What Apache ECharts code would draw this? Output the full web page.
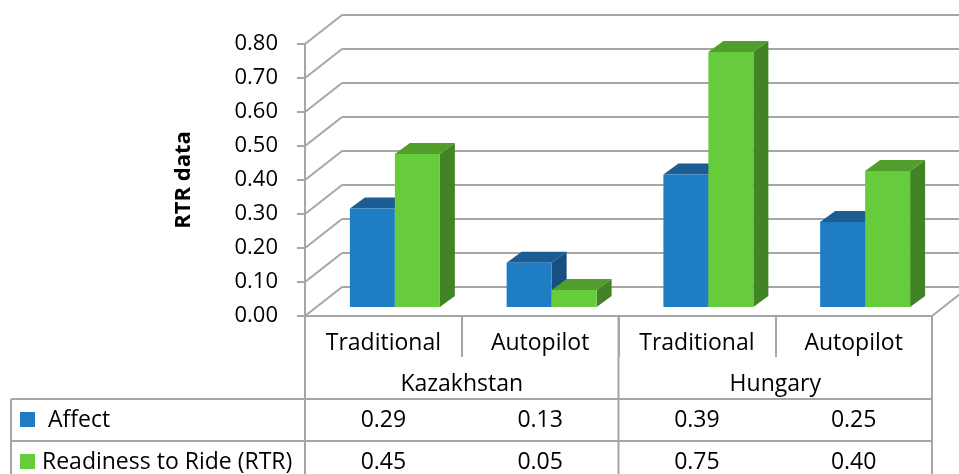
<!DOCTYPE html>
<html><head><meta charset="utf-8">
<script src="https://cdn.jsdelivr.net/npm/echarts@6/dist/echarts.min.js"></script>
<style>html,body{margin:0;padding:0;background:#fff}#c{width:959px;height:474px}</style>
</head><body><div id="c"></div>
<script>
// ---- data ----
const subCategories = ['Traditional', 'Autopilot', 'Traditional', 'Autopilot'];
const groups = ['Kazakhstan', 'Hungary'];
const seriesNames = ['Affect', 'Readiness to Ride (RTR)'];
const affect = [0.29, 0.13, 0.39, 0.25];
const rtr = [0.45, 0.05, 0.75, 0.40];
const yTicks = [0, 0.1, 0.2, 0.3, 0.4, 0.5, 0.6, 0.7, 0.8];
const yTitle = 'RTR data';

// ---- style / layout ----
const FONT = '"Open Sans", sans-serif';
const FS = 23;
const GRID = {left: 305, top: 44, width: 627, height: 272};
const WALL = {dx: 37, dy: -29};
const BAR_SHIFT = {dx: 11.5, dy: -9};
const BAR_DEPTH = {dx: 15, dy: -11};
const BAR_FRAC = 0.287;
const LINE = '#a6a6a6';
const colors = [
  {front: '#1f7dc3', top: '#1c5e94', side: '#174f80'},
  {front: '#66cc3b', top: '#529e2c', side: '#418325'}
];
const seriesValues = [affect, rtr];
const yMin = yTicks[0], yMax = yTicks[yTicks.length - 1], yStep = yTicks[1] - yTicks[0];

function barRender(s) {
  return function (params, api) {
    const cat = api.value(0), v = api.value(1);
    const base = api.coord([cat, 0]);
    const top = api.coord([cat, v]);
    const bw = api.size([1, 0])[0] * BAR_FRAC;
    const x0 = base[0] - bw + s * bw + BAR_SHIFT.dx;
    const x1 = x0 + bw;
    const yb = base[1] + BAR_SHIFT.dy;
    const yt = top[1] + BAR_SHIFT.dy;
    const dx = BAR_DEPTH.dx, dy = BAR_DEPTH.dy;
    const c = colors[s];
    return {type: 'group', children: [
      {type: 'polygon', shape: {points: [[x1, yb], [x1 + dx, yb + dy], [x1 + dx, yt + dy], [x1, yt]]}, style: {fill: c.side}},
      {type: 'polygon', shape: {points: [[x0, yt], [x1, yt], [x1 + dx, yt + dy], [x0 + dx, yt + dy]]}, style: {fill: c.top}},
      {type: 'rect', shape: {x: x0, y: yt, width: bw, height: yb - yt}, style: {fill: c.front}}
    ]};
  };
}

function wallRender(params, api) {
  const v = api.value(1);
  const p = api.coord([0, v]);
  const cs = params.coordSys;
  const x = cs.x;
  const st = {stroke: LINE, lineWidth: 2};
  const children = [{type: 'line', shape: {x1: x, y1: p[1], x2: x + WALL.dx, y2: p[1] + WALL.dy}, style: st}];
  if (v === yMin) {
    const xr = cs.x + cs.width;
    children.push({type: 'line', shape: {x1: xr, y1: p[1], x2: xr + WALL.dx, y2: p[1] + WALL.dy}, style: st});
  }
  return {type: 'group', children};
}

function tableRender(params, api) {
  const cs = params.coordSys;
  const L = cs.x, R = cs.x + cs.width, B = cs.y + cs.height;
  const cw = api.size([1, 0])[0];
  const children = [];
  const st = {stroke: LINE, lineWidth: 2};
  const line = (x1, y1, x2, y2) => children.push({type: 'line', shape: {x1, y1, x2, y2}, style: st});
  const text = (t, x, y, align) => children.push({type: 'text', style: {
    text: t, x, y, align: align || 'center', verticalAlign: 'middle', font: FS + 'px ' + FONT, fill: '#000'}});
  const tableLeft = 11, bottom = B + 170;
  const row1 = B + 83, row2 = B + 125;
  for (let g = 0; g <= groups.length; g++) {
    const x = L + g * 2 * cw;
    line(x, B, x, bottom);
  }
  line(tableLeft, row1, R, row1);
  line(tableLeft, row2, R, row2);
  line(tableLeft, row1, tableLeft, bottom);
  groups.forEach((g, i) => {
    const x = api.coord([i * 2, 0])[0] + cw / 2;
    text(g, x, B + 68);
  });
  const rowCenters = [B + 104, B + 146];
  const nameX = [48, 42];
  seriesValues.forEach((vals, s) => {
    const yc = rowCenters[s];
    children.push({type: 'rect', shape: {x: 20, y: yc - 8, width: 15, height: 15}, style: {fill: colors[s].front}});
    text(seriesNames[s], nameX[s], yc, 'left');
    vals.forEach((v, i) => {
      text(v.toFixed(2), api.coord([i, 0])[0], yc);
    });
  });
  return {type: 'group', children};
}

const chart = echarts.init(document.getElementById('c'), null, {renderer: 'canvas'});
chart.setOption({
  animation: false,
  backgroundColor: '#ffffff',
  grid: [
    Object.assign({outerBoundsMode: 'none', containLabel: false}, GRID),
    {outerBoundsMode: 'none', containLabel: false, left: GRID.left + WALL.dx, top: GRID.top + WALL.dy, width: GRID.width, height: GRID.height}
  ],
  xAxis: [
    {gridIndex: 0, type: 'category', data: subCategories,
      axisLine: {show: true, lineStyle: {color: LINE, width: 2}},
      axisTick: {show: true, length: 41, interval: 0, alignWithLabel: false, lineStyle: {color: LINE, width: 2}},
      axisLabel: {show: true, interval: 0, margin: 16, fontFamily: FONT, fontSize: FS, color: '#000'},
      splitLine: {show: false}},
    {gridIndex: 1, type: 'category', data: subCategories, show: false}
  ],
  yAxis: [
    {gridIndex: 0, type: 'value', min: yMin, max: yMax, interval: yStep,
      name: yTitle, nameLocation: 'middle', nameRotate: 90, nameGap: 110,
      nameTextStyle: {fontFamily: FONT, fontSize: 22, fontWeight: 'bold', color: '#000'},
      axisLine: {show: true, lineStyle: {color: LINE, width: 2}},
      axisTick: {show: true, length: 8, lineStyle: {color: LINE, width: 2}},
      axisLabel: {margin: 27, fontFamily: FONT, fontSize: 22, color: '#000', formatter: v => v.toFixed(2)},
      splitLine: {show: false}},
    {gridIndex: 1, type: 'value', min: yMin, max: yMax, interval: yStep,
      axisLine: {show: false}, axisTick: {show: false}, axisLabel: {show: false},
      splitLine: {show: true, lineStyle: {color: LINE, width: 2}}}
  ],
  series: [
    {type: 'custom', name: 'wall', xAxisIndex: 0, yAxisIndex: 0, silent: true, z: 1,
      data: yTicks.map(v => [0, v]), renderItem: wallRender},
    {type: 'custom', name: seriesNames[0], xAxisIndex: 0, yAxisIndex: 0, z: 3,
      data: affect.map((v, i) => [i, v]), encode: {x: 0, y: 1}, renderItem: barRender(0)},
    {type: 'custom', name: seriesNames[1], xAxisIndex: 0, yAxisIndex: 0, z: 3,
      data: rtr.map((v, i) => [i, v]), encode: {x: 0, y: 1}, renderItem: barRender(1)},
    {type: 'custom', name: 'table', xAxisIndex: 0, yAxisIndex: 0, silent: true, z: 2,
      data: [[0, 0]], renderItem: tableRender}
  ]
});
</script></body></html>
